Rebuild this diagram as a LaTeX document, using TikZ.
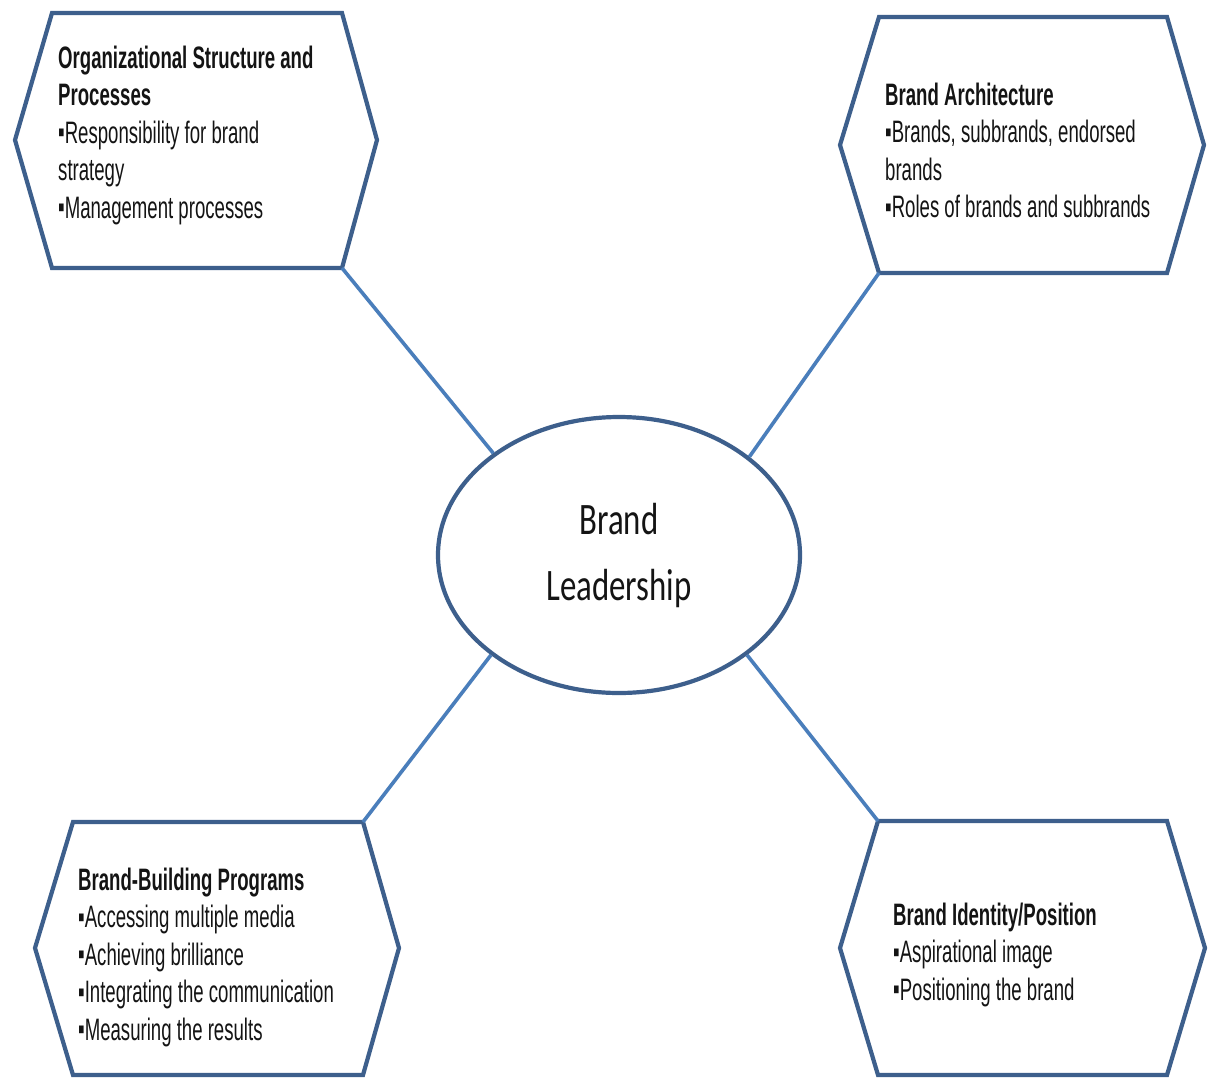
\documentclass[tikz,border=0pt]{standalone}
\usepackage{fontspec}
\setmainfont{Liberation Sans}[FakeStretch=0.6]
\newfontfamily\ellfont{Carlito}[FakeStretch=0.73]
\usetikzlibrary{shapes.geometric}
\definecolor{hexblue}{HTML}{3D5F8C}
\definecolor{linkblue}{HTML}{4A7EBB}
\definecolor{ink}{HTML}{141414}
\tikzset{
  hexframe/.style={draw=hexblue, line width=4.2pt, line join=miter, fill=white},
  link/.style={draw=linkblue, line width=3.6pt},
  hub/.style={ellipse, draw=hexblue, line width=4.2pt, fill=white,
    minimum width=362pt, minimum height=276pt, inner sep=0pt,
    align=center, text=ink, font=\ellfont\fontsize{45pt}{66pt}\selectfont},
  % multi-line nodes: the base anchor sits on the last line's baseline
  boxtext/.style={anchor=base west, inner sep=0pt, align=left, text=ink,
    font=\fontsize{31pt}{37.5pt}\selectfont},
}
\newcommand{\bul}{\raisebox{0.5pt}{\char"25AA}}
\begin{document}
\begin{tikzpicture}[x=1pt, y=-1pt]
\useasboundingbox (0,0) rectangle (1208,1077);
\fill[white] (0,0) rectangle (1208,1077);

% hexagon corners: top-left box
\coordinate (tl1) at (52,13);   \coordinate (tl2) at (342,13);
\coordinate (tl3) at (377,140); \coordinate (tl4) at (342,268);
\coordinate (tl5) at (52,268);  \coordinate (tl6) at (15,140);
% top-right box
\coordinate (tr1) at (879,17);   \coordinate (tr2) at (1167,17);
\coordinate (tr3) at (1204,145); \coordinate (tr4) at (1167,273);
\coordinate (tr5) at (879,273);  \coordinate (tr6) at (840,145);
% bottom-left box
\coordinate (bl1) at (73,822);   \coordinate (bl2) at (363,822);
\coordinate (bl3) at (399,948);  \coordinate (bl4) at (363,1075);
\coordinate (bl5) at (73,1075);  \coordinate (bl6) at (35,948);
% bottom-right box
\coordinate (br1) at (878,821);   \coordinate (br2) at (1167,821);
\coordinate (br3) at (1205,948);  \coordinate (br4) at (1167,1075);
\coordinate (br5) at (878,1075);  \coordinate (br6) at (840,948);

\draw[hexframe] (tl1)--(tl2)--(tl3)--(tl4)--(tl5)--(tl6)--cycle;
\draw[hexframe] (tr1)--(tr2)--(tr3)--(tr4)--(tr5)--(tr6)--cycle;
\draw[hexframe] (bl1)--(bl2)--(bl3)--(bl4)--(bl5)--(bl6)--cycle;
\draw[hexframe] (br1)--(br2)--(br3)--(br4)--(br5)--(br6)--cycle;

% central hub
\node[hub] (hub) at (619,555) {Brand\\Leadership};

% spokes
\draw[link] (tl4) -- (hub.141);
\draw[link] (tr5) -- (hub.37);
\draw[link] (bl2) -- (hub.218);
\draw[link] (br1) -- (hub.322);

% box texts
\node[boxtext] (tltext) at (58,218)
  {\textbf{Organizational Structure and}\\\textbf{Processes}\\
   \bul Responsibility for brand\\strategy\\\bul Management processes};
\node[boxtext] (trtext) at (885,217.5)
  {\textbf{Brand Architecture}\\\bul Brands, subbrands, endorsed\\brands\\
   \bul Roles of brands and subbrands};
\node[boxtext] (bltext) at (78,1040)
  {\textbf{Brand-Building Programs}\\\bul Accessing multiple media\\
   \bul Achieving brilliance\\\bul Integrating the communication\\
   \bul Measuring the results};
\node[boxtext] (brtext) at (893,1000)
  {\textbf{Brand Identity/Position}\\\bul Aspirational image\\
   \bul Positioning the brand};
\end{tikzpicture}
\end{document}
